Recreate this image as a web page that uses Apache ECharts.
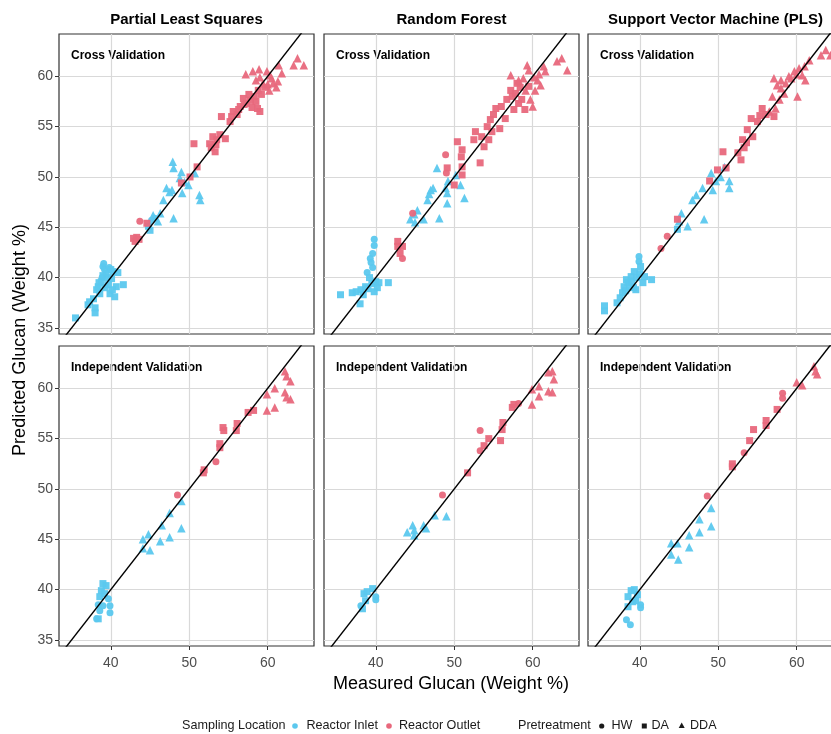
<!DOCTYPE html>
<html>
<head>
<meta charset="UTF-8">
<title>Measured vs predicted glucan</title>
<style>
    html, body { margin: 0; padding: 0; background: #fff; }
    #chart { width: 831px; height: 734px; }
</style>
<script src="https://cdn.jsdelivr.net/npm/echarts@6/dist/echarts.min.js"></script>
</head>
<body>
<div id="chart"></div>
<script>
// facet labels and tick values
var models = ['Partial Least Squares', 'Random Forest', 'Support Vector Machine (PLS)'];
var validations = ['Cross Validation', 'Independent Validation'];
var xTicks = [40, 50, 60];
var yTicks = [35, 40, 45, 50, 55, 60];

// [measured, predicted, location (I = reactor inlet, O = reactor outlet), pretreatment]
var plsCV = [
    [35.5,36.0,'I','DA'],[37.1,37.3,'I','DA'],[37.3,37.6,'I','DA'],[38.0,36.5,'I','DA'],[38.0,37.0,'I','DA'],
    [38.2,38.8,'I','DA'],[38.4,39.1,'I','DA'],[38.6,38.4,'I','DA'],[38.8,39.6,'I','DA'],[39.0,41.1,'I','HW'],
    [39.1,41.4,'I','HW'],[39.2,40.8,'I','HW'],[39.4,40.4,'I','DA'],[39.7,39.3,'I','DA'],[39.9,38.4,'I','DA'],
    [40.1,39.9,'I','DA'],[40.3,40.6,'I','DA'],[40.5,38.1,'I','DA'],[40.7,39.1,'I','DA'],[40.9,40.5,'I','DA'],
    [41.6,39.3,'I','DA'],[38.9,40.0,'I','HW'],[38.5,39.5,'I','DA'],[39.0,40.2,'I','DA'],[39.6,40.0,'I','DA'],
    [40.0,40.8,'I','DA'],[39.3,39.0,'I','DA'],[40.2,38.8,'I','DA'],[37.8,37.9,'I','DA'],[39.8,41.0,'I','HW'],
    [44.8,45.1,'I','DA'],[45.0,44.7,'I','DA'],[45.2,45.7,'I','HW'],[45.6,45.9,'I','HW'],
    [45.4,46.2,'I','DDA'],[46.0,45.6,'I','DDA'],[46.3,46.4,'I','DDA'],[46.7,47.7,'I','DDA'],[47.1,48.9,'I','DDA'],
    [47.5,48.5,'I','DDA'],[48.0,45.9,'I','DDA'],[47.9,51.5,'I','DDA'],[48.0,50.9,'I','DDA'],[49.0,50.5,'I','DDA'],
    [49.1,48.4,'I','DDA'],[49.4,49.5,'I','DDA'],[49.9,49.2,'I','DDA'],[50.7,50.4,'I','DDA'],[51.3,48.2,'I','DDA'],
    [51.4,47.7,'I','DDA'],[47.8,48.7,'I','DDA'],[48.8,49.9,'I','DDA'],
    [42.9,43.9,'O','DA'],[43.3,44.0,'O','DA'],[43.1,43.6,'O','DA'],[43.6,43.8,'O','DA'],[43.7,45.6,'O','HW'],
    [44.6,45.4,'O','DA'],[49.0,49.4,'O','DA'],[50.1,50.0,'O','DA'],[50.6,53.3,'O','DA'],[51.0,51.0,'O','DA'],
    [52.6,53.3,'O','DA'],[52.8,52.9,'O','DA'],[53.0,54.0,'O','DA'],[53.3,52.5,'O','DA'],[53.4,53.2,'O','DA'],
    [53.5,53.7,'O','DA'],[53.9,54.2,'O','DA'],[54.6,53.8,'O','DA'],[54.1,56.0,'O','DA'],[55.2,55.5,'O','DA'],
    [55.4,56.0,'O','DA'],[55.6,56.5,'O','DA'],[56.1,56.2,'O','DA'],[56.3,56.7,'O','DA'],[56.5,57.0,'O','DA'],
    [56.9,57.8,'O','DA'],[57.0,57.2,'O','DA'],[57.3,57.3,'O','DA'],[57.6,58.2,'O','DA'],[57.8,57.6,'O','DA'],
    [58.0,56.9,'O','DA'],[58.3,58.0,'O','DA'],[58.5,57.5,'O','DA'],[58.7,56.8,'O','DA'],[58.8,58.6,'O','DA'],
    [59.0,56.5,'O','DA'],[59.2,58.2,'O','DA'],[59.7,58.9,'O','DA'],
    [57.2,60.2,'O','DDA'],[58.1,60.5,'O','DDA'],[58.5,59.6,'O','DDA'],[58.9,60.7,'O','DDA'],[59.0,59.9,'O','DDA'],
    [59.4,59.3,'O','DDA'],[59.9,60.5,'O','DDA'],[60.0,59.2,'O','DDA'],[60.2,58.6,'O','DDA'],[60.3,60.1,'O','DDA'],
    [60.5,59.8,'O','DDA'],[60.7,59.3,'O','DDA'],[61.1,58.9,'O','DDA'],[61.3,59.5,'O','DDA'],[61.4,61.1,'O','DDA'],
    [61.8,60.3,'O','DDA'],[63.3,61.1,'O','DDA'],[63.8,61.8,'O','DDA'],[64.6,61.1,'O','DDA']
];
var rfCV = [
    [35.5,38.3,'I','DA'],[37.0,38.5,'I','DA'],[37.5,38.6,'I','DA'],[38.0,37.4,'I','DA'],[38.1,38.8,'I','DA'],
    [38.4,38.3,'I','DA'],[38.7,39.1,'I','DA'],[39.0,38.9,'I','DA'],[38.9,40.5,'I','HW'],[39.2,40.0,'I','DA'],
    [39.3,41.9,'I','HW'],[39.4,41.5,'I','HW'],[39.6,41.0,'I','HW'],[39.6,42.4,'I','HW'],[39.8,43.8,'I','HW'],
    [39.8,43.2,'I','HW'],[39.8,38.6,'I','DA'],[39.5,39.4,'I','DA'],[40.0,39.6,'I','DA'],[40.2,39.0,'I','DA'],
    [40.4,39.5,'I','DA'],[41.6,39.5,'I','DA'],
    [44.4,45.8,'I','DDA'],[44.9,46.3,'I','DDA'],[45.0,45.5,'I','DDA'],[45.3,46.7,'I','DDA'],[46.1,45.8,'I','DDA'],
    [46.6,47.7,'I','DDA'],[46.8,48.3,'I','DDA'],[47.0,48.7,'I','DDA'],[47.3,48.9,'I','DDA'],[47.8,50.9,'I','DDA'],
    [48.1,45.9,'I','DDA'],[48.9,48.9,'I','DDA'],[49.1,48.4,'I','DDA'],[49.1,47.4,'I','DDA'],[49.2,49.6,'I','DDA'],
    [50.2,50.2,'I','DDA'],[50.8,49.2,'I','DDA'],[51.3,47.9,'I','DDA'],
    [42.8,43.6,'O','DA'],[42.8,43.1,'O','DA'],[43.1,42.4,'O','DA'],[43.4,41.9,'O','HW'],[43.4,43.1,'O','DA'],
    [44.7,46.4,'O','HW'],[48.9,52.2,'O','HW'],[49.0,50.4,'O','HW'],[49.1,50.9,'O','DA'],[50.0,49.2,'O','DA'],
    [50.4,53.5,'O','DA'],[51.0,52.7,'O','DA'],[50.9,52.0,'O','DA'],[51.0,51.0,'O','DA'],[51.0,50.2,'O','DA'],
    [52.5,53.7,'O','DA'],[52.7,54.5,'O','DA'],[53.3,51.4,'O','DA'],[53.5,54.0,'O','DA'],[53.8,53.0,'O','DA'],
    [54.2,55.0,'O','DA'],[54.4,53.7,'O','DA'],[54.6,55.7,'O','DA'],[54.8,54.5,'O','DA'],[55.0,56.2,'O','DA'],
    [55.3,56.8,'O','DA'],[55.8,54.8,'O','DA'],[56.0,57.0,'O','DA'],[56.5,55.8,'O','DA'],[56.7,57.7,'O','DA'],
    [57.2,58.6,'O','DA'],[57.4,58.0,'O','DA'],[57.6,56.7,'O','DA'],[57.8,58.3,'O','DA'],[58.0,59.3,'O','DA'],
    [58.2,57.3,'O','DA'],[58.4,58.9,'O','DA'],[58.6,57.7,'O','DA'],[59.0,56.7,'O','DA'],[59.5,59.0,'O','DA'],
    [57.2,60.1,'O','DDA'],[58.2,59.6,'O','DDA'],[58.8,59.8,'O','DDA'],[59.1,58.6,'O','DDA'],[59.3,61.1,'O','DDA'],
    [59.5,60.6,'O','DDA'],[59.7,57.7,'O','DDA'],[60.0,57.0,'O','DDA'],[60.2,59.9,'O','DDA'],[60.3,58.6,'O','DDA'],
    [60.6,59.6,'O','DDA'],[60.8,60.2,'O','DDA'],[61.0,59.1,'O','DDA'],[61.4,61.0,'O','DDA'],[61.6,60.5,'O','DDA'],
    [63.1,61.5,'O','DDA'],[63.7,61.8,'O','DDA'],[64.4,60.6,'O','DDA']
];
var svmCV = [
    [35.5,36.7,'I','DA'],[35.5,37.2,'I','DA'],[37.1,37.5,'I','DA'],[37.5,38.0,'I','DA'],[37.8,38.5,'I','DA'],
    [38.0,39.1,'I','DA'],[38.2,38.7,'I','DA'],[38.3,39.8,'I','DA'],[38.5,39.5,'I','DA'],[38.7,39.1,'I','DA'],
    [38.9,40.1,'I','DA'],[39.0,39.6,'I','DA'],[39.2,39.0,'I','DA'],[39.3,40.6,'I','DA'],[39.6,40.0,'I','DA'],
    [39.9,42.1,'I','HW'],[39.9,41.6,'I','HW'],[40.0,40.4,'I','DA'],[40.1,41.1,'I','DA'],[40.4,39.5,'I','DA'],
    [40.6,40.1,'I','DA'],[39.5,38.8,'I','DA'],[41.5,39.8,'I','DA'],
    [44.8,44.8,'I','DA'],[45.0,45.6,'I','DDA'],[45.3,46.4,'I','DDA'],[46.1,45.1,'I','DDA'],[46.7,47.7,'I','DDA'],
    [47.2,48.2,'I','DDA'],[48.0,48.9,'I','DDA'],[48.2,45.8,'I','DDA'],[49.1,50.4,'I','DDA'],[49.3,48.7,'I','DDA'],
    [49.7,49.6,'I','DDA'],[50.3,50.0,'I','DDA'],[50.8,51.0,'I','DDA'],[51.4,49.6,'I','DDA'],[51.4,48.9,'I','DDA'],
    [42.7,42.9,'O','HW'],[43.5,44.1,'O','HW'],[44.8,45.8,'O','DA'],[48.9,49.6,'O','DA'],[49.9,50.7,'O','DA'],
    [50.6,52.5,'O','DA'],[51.0,50.9,'O','DA'],[52.5,52.4,'O','DA'],[52.9,51.7,'O','DA'],[53.3,52.9,'O','DA'],
    [53.1,53.7,'O','DA'],[53.6,53.4,'O','DA'],[53.7,54.7,'O','DA'],[54.4,54.0,'O','DA'],[54.2,55.8,'O','DA'],
    [55.0,55.5,'O','DA'],[55.3,56.1,'O','DA'],[55.6,56.8,'O','DA'],[56.1,56.2,'O','DA'],[57.1,56.0,'O','DA'],
    [56.5,56.5,'O','DDA'],[57.3,56.8,'O','DDA'],[56.9,58.0,'O','DDA'],[57.8,57.7,'O','DDA'],[58.4,58.3,'O','DDA'],
    [57.1,59.8,'O','DDA'],[57.5,59.1,'O','DDA'],[58.0,59.6,'O','DDA'],[58.0,58.8,'O','DDA'],[58.6,59.3,'O','DDA'],
    [59.0,60.0,'O','DDA'],[59.3,59.8,'O','DDA'],[59.7,60.5,'O','DDA'],[60.0,60.2,'O','DDA'],[60.3,60.8,'O','DDA'],
    [60.7,60.1,'O','DDA'],[61.0,61.0,'O','DDA'],[61.1,59.6,'O','DDA'],[60.1,58.0,'O','DDA'],[61.6,61.6,'O','DDA'],
    [63.1,62.1,'O','DDA'],[63.7,62.6,'O','DDA'],[64.3,62.1,'O','DDA']
];
var plsIV = [
    [38.2,37.1,'I','HW'],[38.4,37.1,'I','DA'],[38.6,37.9,'I','HW'],[38.4,38.5,'I','HW'],[39.0,38.4,'I','HW'],
    [38.8,39.9,'I','DA'],[39.0,40.6,'I','DA'],[39.4,40.4,'I','DA'],[39.2,39.6,'I','DA'],[39.7,39.1,'I','HW'],
    [39.9,38.4,'I','HW'],[39.9,37.7,'I','HW'],[38.6,39.3,'I','DA'],
    [44.1,45.0,'I','DDA'],[44.8,45.5,'I','DDA'],[44.1,44.1,'I','DDA'],[45.0,43.9,'I','DDA'],[46.5,46.4,'I','DDA'],
    [46.3,44.8,'I','DDA'],[47.5,47.6,'I','DDA'],[47.5,45.2,'I','DDA'],[49.0,48.8,'I','DDA'],[49.0,46.1,'I','DDA'],
    [48.5,49.4,'O','HW'],[51.8,51.6,'O','DA'],[51.9,51.9,'O','DA'],[53.4,52.7,'O','HW'],[53.9,54.1,'O','DA'],
    [53.9,54.5,'O','DA'],[54.3,56.1,'O','DA'],[54.4,55.8,'O','DA'],[56.0,55.8,'O','DA'],[56.1,56.5,'O','DA'],
    [57.5,57.6,'O','DA'],[58.2,57.8,'O','DA'],[59.9,59.4,'O','DDA'],[59.9,57.8,'O','DDA'],[60.9,60.0,'O','DDA'],
    [60.9,58.1,'O','DDA'],[62.2,59.6,'O','DDA'],[62.2,61.7,'O','DDA'],[62.4,61.2,'O','DDA'],[62.9,60.7,'O','DDA'],
    [62.9,58.9,'O','DDA'],[62.4,59.1,'O','DDA']
];
var rfIV = [
    [38.3,38.1,'I','DA'],[38.1,38.4,'I','HW'],[38.5,39.6,'I','DA'],[38.9,39.8,'I','DA'],[39.6,40.1,'I','DA'],
    [40.0,39.3,'I','HW'],[40.0,39.0,'I','HW'],[38.7,38.9,'I','DA'],
    [44.0,45.7,'I','DDA'],[44.7,46.4,'I','DDA'],[44.9,45.9,'I','DDA'],[44.9,45.4,'I','DDA'],[46.1,46.4,'I','DDA'],
    [46.4,46.1,'I','DDA'],[47.5,47.4,'I','DDA'],[49.0,47.3,'I','DDA'],
    [48.5,49.4,'O','HW'],[51.7,51.6,'O','DA'],[53.3,55.8,'O','HW'],[53.3,53.8,'O','HW'],[53.8,54.3,'O','DA'],
    [54.4,55.0,'O','DA'],[55.9,54.8,'O','DA'],[56.1,55.9,'O','DA'],[56.2,56.6,'O','DA'],[57.4,58.1,'O','DA'],
    [57.6,58.4,'O','DA'],[58.2,58.5,'O','HW'],[59.9,58.4,'O','DDA'],[59.9,59.9,'O','DDA'],[60.8,60.2,'O','DDA'],
    [60.8,59.2,'O','DDA'],[62.0,59.7,'O','DDA'],[62.0,61.6,'O','DDA'],[62.5,61.7,'O','DDA'],[62.7,60.9,'O','DDA'],
    [62.5,59.6,'O','DDA']
];
var svmIV = [
    [38.3,37.0,'I','HW'],[38.8,36.5,'I','HW'],[38.5,38.3,'I','DA'],[38.5,39.3,'I','DA'],[38.9,39.9,'I','DA'],
    [39.3,40.0,'I','DA'],[39.7,39.5,'I','DA'],[39.5,38.9,'I','DA'],[40.1,38.5,'I','HW'],[40.1,38.2,'I','HW'],
    [39.1,38.8,'I','DA'],
    [44.0,44.6,'I','DDA'],[44.8,44.6,'I','DDA'],[44.0,43.5,'I','DDA'],[44.9,43.0,'I','DDA'],[46.3,45.4,'I','DDA'],
    [46.3,44.2,'I','DDA'],[47.6,45.7,'I','DDA'],[47.6,47.0,'I','DDA'],[49.1,48.1,'I','DDA'],[49.1,46.3,'I','DDA'],
    [48.6,49.3,'O','HW'],[51.8,52.5,'O','DA'],[51.8,52.2,'O','DA'],[53.3,53.6,'O','HW'],[54.0,54.8,'O','DA'],
    [54.5,55.9,'O','DA'],[56.1,56.8,'O','DA'],[56.1,56.3,'O','DA'],[57.5,57.9,'O','DA'],[58.2,59.5,'O','HW'],
    [58.2,59.0,'O','HW'],[60.0,60.6,'O','DDA'],[60.7,60.3,'O','DDA'],[62.2,62.2,'O','DDA'],[62.6,61.4,'O','DDA'],
    [62.4,61.7,'O','DDA']
];

var X_MIN = 33.4, X_MAX = 65.9, Y_MIN = 34.4, Y_MAX = 64.2;
var panels = [plsCV, rfCV, svmCV, plsIV, rfIV, svmIV];
var colLeft = [59, 324, 588], rowTop = [34, 346], panelW = 255, panelH = 300;

var colors = {I: '#5bc8ee', O: '#e8687c'};
var shapes = {HW: 'circle', DA: 'rect', DDA: 'triangle'};
var sizes = {HW: 7, DA: 7, DDA: 8.5};
var font = '"Liberation Sans", Arial, Helvetica, sans-serif';

var grids = [], xAxes = [], yAxes = [], series = [], graphics = [];

panels.forEach(function (pts, i) {
    var col = i % 3, row = Math.floor(i / 3);
    grids.push({
        left: colLeft[col], top: rowTop[row], width: panelW, height: panelH,
        show: true, borderColor: '#333', borderWidth: 1.2, backgroundColor: '#fff',
        containLabel: false, outerBoundsMode: 'none'
    });
    xAxes.push({
        gridIndex: i, type: 'value', min: X_MIN, max: X_MAX, minInterval: 10, maxInterval: 10,
        axisLine: {show: false},
        axisTick: {show: row === 1, customValues: xTicks, length: 4, lineStyle: {color: '#333'}},
        axisLabel: {show: row === 1, customValues: xTicks, color: '#4d4d4d', fontSize: 14, fontFamily: font, margin: 10},
        splitLine: {show: true, lineStyle: {color: '#d9d9d9', width: 1.2}}
    });
    yAxes.push({
        gridIndex: i, type: 'value', min: Y_MIN, max: Y_MAX, minInterval: 5, maxInterval: 5,
        axisLine: {show: false},
        axisTick: {show: col === 0, customValues: yTicks, length: 4, lineStyle: {color: '#333'}},
        axisLabel: {show: col === 0, customValues: yTicks, color: '#4d4d4d', fontSize: 14, fontFamily: font, margin: 6},
        splitLine: {show: true, lineStyle: {color: '#d9d9d9', width: 1.2}}
    });

    ['I', 'O'].forEach(function (loc) {
        ['HW', 'DA', 'DDA'].forEach(function (pre) {
            var data = pts.filter(function (p) { return p[2] === loc && p[3] === pre; })
                          .map(function (p) { return [p[0], p[1]]; });
            if (!data.length) return;
            series.push({
                type: 'scatter', xAxisIndex: i, yAxisIndex: i,
                symbol: shapes[pre], symbolSize: sizes[pre],
                itemStyle: {color: colors[loc], opacity: 0.95},
                data: data, silent: true, z: 2
            });
        });
    });

    // 1:1 reference line
    series.push({
        type: 'line', xAxisIndex: i, yAxisIndex: i, symbol: 'none', silent: true, clip: true,
        lineStyle: {color: '#000', width: 1.4}, z: 5,
        data: [[X_MIN, X_MIN], [X_MAX, X_MAX]]
    });

    graphics.push({
        type: 'text', left: colLeft[col] + 12, top: rowTop[row] + 16,
        style: {text: validations[row], fill: '#000', font: 'bold 12px ' + font}
    });
    if (row === 0) {
        graphics.push({
            type: 'text', x: colLeft[col] + panelW / 2, y: 20,
            style: {text: models[col], fill: '#000', font: 'bold 15px ' + font, align: 'center', verticalAlign: 'middle'}
        });
    }
});

// axis titles
graphics.push({
    type: 'text', x: 20, y: 340, rotation: Math.PI / 2,
    style: {text: 'Predicted Glucan (Weight %)', fill: '#000', font: '18px ' + font, align: 'center', verticalAlign: 'middle'}
});
graphics.push({
    type: 'text', x: 451, y: 684,
    style: {text: 'Measured Glucan (Weight %)', fill: '#000', font: '18px ' + font, align: 'center', verticalAlign: 'middle'}
});

// legend
var ly = 726;
function legendText(x, t) {
    graphics.push({type: 'text', x: x, y: ly, style: {text: t, fill: '#1a1a1a', font: '12.6px ' + font, verticalAlign: 'middle'}});
}
legendText(182, 'Sampling Location');
graphics.push({type: 'circle', shape: {cx: 295, cy: ly, r: 2.8}, style: {fill: colors.I}});
legendText(306.5, 'Reactor Inlet');
graphics.push({type: 'circle', shape: {cx: 389, cy: ly, r: 2.8}, style: {fill: colors.O}});
legendText(399, 'Reactor Outlet');
legendText(518, 'Pretreatment');
graphics.push({type: 'circle', shape: {cx: 601.7, cy: ly, r: 2.6}, style: {fill: '#1a1a1a'}});
legendText(611.5, 'HW');
graphics.push({type: 'rect', shape: {x: 641.8, y: ly - 2.5, width: 5, height: 5}, style: {fill: '#1a1a1a'}});
legendText(651.5, 'DA');
graphics.push({type: 'polygon', shape: {points: [[681.7, ly - 3.5], [678.7, ly + 2], [684.7, ly + 2]]}, style: {fill: '#1a1a1a'}});
legendText(690, 'DDA');

var chart = echarts.init(document.getElementById('chart'));
chart.setOption({
    animation: false,
    backgroundColor: '#fff',
    grid: grids,
    xAxis: xAxes,
    yAxis: yAxes,
    series: series,
    graphic: graphics
});
</script>
</body>
</html>
